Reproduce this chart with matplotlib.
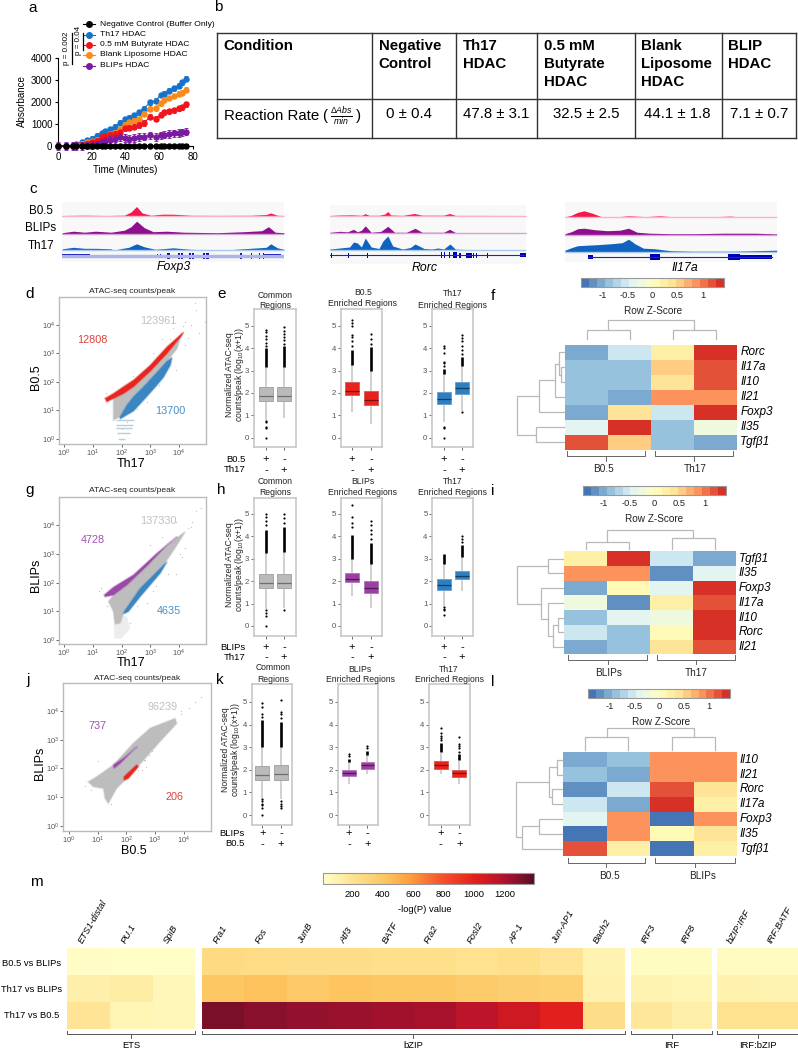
import matplotlib
matplotlib.use("Agg")
import matplotlib.pyplot as plt
from matplotlib import font_manager as fm
from matplotlib.colors import LinearSegmentedColormap, Normalize, to_rgba
from matplotlib.lines import Line2D
from matplotlib.patches import Rectangle
import numpy as np

W, H = 798, 1050
names = {f.name for f in fm.fontManager.ttflist}
plt.rcParams['font.family'] = ['Liberation Sans', 'DejaVu Sans']
plt.rcParams['mathtext.default'] = 'regular'
plt.rcParams['mathtext.fontset'] = 'custom'
plt.rcParams['mathtext.rm'] = 'Liberation Sans'
plt.rcParams['mathtext.it'] = 'Liberation Sans:italic'
NARROW = 'Liberation Sans Narrow' if 'Liberation Sans Narrow' in names else 'Liberation Sans'
NS = 1.0 if NARROW != 'Liberation Sans' else 0.84

# ---------- panel a ----------
times = [0,5,9,11,14,17,20,23,26,28,31,34,37,40,42,45,48,51,55,58,61,63,66,69,72,74,76]
neg_ctrl = [0,0,-10,0,10,0,-5,5,0,0,5,-5,0,0,0,5,-5,0,0,-5,0,5,0,-5,0,5,0]
th17_hdac = [0,5,40,90,170,260,330,460,580,680,760,880,1050,1210,1290,1400,1530,1700,1990,2050,2320,2370,2520,2620,2740,2900,3050]
blank_hdac = [0,0,20,50,100,160,220,290,380,450,530,610,760,960,1080,1150,1230,1460,1690,1710,1950,2100,2180,2270,2380,2420,2550]
but_hdac = [0,0,10,30,60,110,170,250,410,450,500,550,620,810,840,880,950,1050,1330,1240,1430,1530,1570,1620,1720,1760,1900]
blip_hdac = [0,0,0,5,10,30,50,80,170,230,270,330,400,370,330,370,400,430,480,420,480,520,540,570,600,620,650]
a_labels = ['Negative Control (Buffer Only)', 'Th17 HDAC', '0.5 mM Butyrate HDAC', 'Blank Liposome HDAC', 'BLIPs HDAC']
a_errs = [30, 110, 120, 110, 170]
a_xticks = [0, 20, 40, 60, 80]
a_yticks = [0, 1000, 2000, 3000, 4000]

# ---------- panel b ----------
tbl_header = [['Condition'], ['Negative', 'Control'], ['Th17', 'HDAC'], ['0.5 mM', 'Butyrate', 'HDAC'], ['Blank', 'Liposome', 'HDAC'], ['BLIP', 'HDAC']]
tbl_rates = ['0 ± 0.4', '47.8 ± 3.1', '32.5 ± 2.5', '44.1 ± 1.8', '7.1 ± 0.7']

# ---------- panel c: signal knots (fraction along locus, height in px) ----------
foxp3_b05 = ([0,.1,.2,.28,.31,.335,.36,.4,.45,.5,.58,.7,.85,.92,.94,.97,1], [.5,.8,.5,.8,4,9.5,3,.7,1.8,1.8,.7,.6,.7,1.5,3,.7,.5])
foxp3_blip = ([0,.05,.1,.15,.22,.28,.31,.335,.37,.41,.47,.55,.7,.82,.9,.93,.96,1], [1,2.5,1.5,2.5,1.5,3.5,7,12.5,6,2,2.5,1.5,1,2,3,7,1.5,1])
foxp3_th17 = ([0,.05,.1,.15,.22,.23,.26,.3,.335,.37,.42,.5,.58,.74,.78,.85,.92,.94,.97,1], [1.5,3,2,2,1.5,0,1.5,3,6.5,3.5,1,2.5,1,0,1,2,3,6.5,2.5,1])
rorc_b05 = ([0,.05,.11,.16,.18,.2,.25,.28,.295,.31,.37,.43,.47,.58,.61,.64,1], [.5,1,1.2,.7,2.3,.7,.7,2,4.5,1,.6,2.5,.8,.8,2.5,.6,.5])
rorc_blip = ([0,.05,.09,.12,.14,.16,.18,.21,.26,.295,.33,.39,.434,.47,.58,.61,.64,1], [1,2,1.5,4,1.5,3,7.5,1,2,7,1,1,5,1,1,4,.8,.7])
rorc_th17 = ([0,.05,.1,.12,.14,.16,.18,.21,.25,.27,.295,.32,.37,.41,.434,.48,.52,.55,.58,.612,.64,.7,1], [1,2,3,8,7,3,12,3,1.5,9,14,4,1,2.5,6,1.5,1,2,1,6,.8,.5,.3])
il17_b05 = ([0,.03,.06,.09,.13,.17,.25,.3,.38,.45,.5,.7,.78,.82,1], [.5,2,5,6.5,4,.8,.6,1.5,.7,1.5,.7,.6,1.2,.6,.5])
il17_blip = ([0,.03,.06,.09,.14,.2,.26,.3,.34,.4,.5,.6,.75,.9,1], [1,3,6,6.5,5,4,4.5,6.5,2.5,1.5,1,1,1.5,1.5,.8])
il17_th17 = ([0,.03,.06,.15,.22,.27,.3,.33,.37,.42,.5,.6,.8,1], [1.5,4,6,7,8,9,12.5,8,3.5,3,1,.5,.5,1.5])
foxp3_thick = [(0,.125,4),(.425,.432,4),(.44,.447,4),(.473,.485,6),(.52,.53,6),(.535,.545,6),(.57,.58,6),(.587,.595,6),(.636,.643,6),(.65,.66,6),(.803,.812,6),(.85,.856,6),(.885,.893,6),(.905,.912,6),(.912,.985,4),(.985,1,2.5)]
rorc_thick = [(.003,.008,5),(.09,.095,5),(.19,.195,5),(.568,.573,6),(.58,.585,6),(.605,.612,6),(.628,.648,6),(.66,.668,5),(.695,.725,5),(.73,.735,5),(.745,.75,5),(.8,.805,5),(.97,1,4)]
il17_thick = [(.107,.13,4),(.4,.45,6),(.77,.825,6),(.825,.98,4)]

# ---------- scatter panels: outlines of the point clouds (log10 x, log10 y) ----------
d_grey = ([1.72,1.72,2.07,2.42,3.0,3.58,4.10,3.93,3.58,3.23,2.77,2.42,2.19,1.95], [.66,1.42,1.59,1.83,2.37,2.99,3.70,3.16,2.72,2.33,1.83,1.48,1.19,.78])
d_hi = ([1.43,1.72,2.07,2.42,3.0,3.58,4.16,4.10,3.58,3.0,2.42,2.07,1.72,1.49], [1.42,1.59,1.83,2.06,2.58,3.22,3.74,3.63,2.99,2.37,1.83,1.59,1.42,1.30])
d_lo = ([1.95,2.19,2.42,2.77,3.23,3.58,3.76,3.70,3.47,3.23,2.88,2.42,1.95], [.78,1.19,1.48,1.83,2.33,2.72,2.85,2.58,2.17,1.88,1.48,.98,.70])
d_stripe_y = [4.6, 3.2, 2.4, 1.6, 1.0]
d_stripe_x0 = [62, 62, 65, 70, 75]
d_stripe_x1 = [280, 260, 230, 190, 130]
d_sparse_x = [3.4,3.8,4.2,4.4,4.6,4.55,2.4,3.1,3.7,4.2,4.7,4.9,1.45,2.0,2.9,3.3,4.15,4.3,2.2,2.55,2.7,3.15,3.9]
d_sparse_y = [3.5,3.9,4.1,4.0,4.5,4.75,2.2,3.0,3.5,3.3,3.7,4.1,1.6,.35,1.3,1.9,3.95,3.55,.6,1.05,2.3,2.75,2.4]

g_grey = ([1.55,1.72,2.19,2.88,3.58,4.22,3.93,3.47,2.65,2.09,1.95,1.78,1.72], [1.34,1.57,1.92,2.58,3.31,3.78,3.31,2.62,1.8,.99,.58,.56,.99])
g_hi = ([1.40,1.72,2.42,3.23,3.93,3.58,2.88,2.19,1.72,1.43], [1.57,1.84,2.27,3.02,3.60,3.31,2.58,1.92,1.57,1.51])
g_lo = ([2.09,2.65,3.47,3.58,3.35,2.65,2.24,2.07], [.99,1.8,2.62,2.72,2.33,1.51,.99,.91])
g_faint = ([1.72,2.2,2.3,2.0,1.75], [.99,.8,.4,.05,.05])
g_sparse_x = [3.4,3.9,4.3,4.45,4.6,4.75,4.2,2.9,3.2,3.9,1.3,1.5,2.3,3.0,4.1,3.75,4.4,1.2,2.55,3.1,3.6,4.05]
g_sparse_y = [3.6,4.1,3.9,4.1,4.5,4.6,3.2,1.3,1.9,2.3,1.8,1.2,.6,3.3,2.9,3.2,3.95,1.7,1.2,1.7,2.3,3.0]

j_grey = ([.67,.97,1.55,2.24,2.83,3.7,3.76,3.17,2.24,1.66,1.37,1.26,1.2,.85], [1.53,1.71,2.12,2.87,3.4,3.74,3.57,2.93,1.88,1.3,.78,.95,1.3,1.36])
j_hi = ([1.55,1.9,2.38,2.24,1.78,1.57], [2.12,2.35,2.76,2.64,2.17,2.0])
j_lo = ([1.92,2.36,2.42,2.07,1.92], [1.71,2.12,2.06,1.65,1.59])
j_sparse_x = [3.9,4.2,4.4,4.6,3.2,3.5,3.9,.55,2.6,2.7,1.0,2.75,2.9,3.0,2.4,2.55,2.65,2.8,.75,1.45]
j_sparse_y = [3.9,4.1,4.3,4.5,3.3,3.6,4.0,1.4,2.3,2.05,2.25,3.2,2.6,2.95,1.95,1.95,2.3,2.45,1.25,.75]
log_ticks = [0, 1, 2, 3, 4]

# ---------- box plots: (q1, median, q3, whisker low, whisker high, dense fliers low, high, isolated fliers) ----------
e_common = [(1.65,1.85,2.25,.8,3.15,3.15,4.0,[4.1,4.25,4.4,4.55,4.7,4.8,.75,.7,.5,.45,0]),
            (1.65,1.85,2.25,.9,3.15,3.15,4.1,[4.2,4.35,4.5,4.65,4.75,4.95])]
e_enrich = [(1.9,2.07,2.47,1.15,3.25,3.25,3.9,[4.1,4.3,4.5,4.6,5.0,5.1,5.25]),
            (1.45,1.68,2.07,.6,3.0,3.0,4.05,[4.2,4.4,4.65])]
e_th17 = [(1.5,1.75,2.05,.7,2.85,2.85,3.05,[3.2,3.35,3.4,3.8,4.0,4.1,.5,.45,0]),
          (1.97,2.2,2.48,1.2,3.2,3.2,3.6,[3.75,3.9,4.1,4.3,4.45,4.6,1.15])]
h_common = [(1.68,1.9,2.33,.75,3.25,3.25,4.3,[4.5,4.7,4.85,5,.7,.6,.45,0]),
            (1.68,1.9,2.33,.8,3.3,3.3,4.4,[4.6,4.8,5,.7])]
h_enrich = [(1.95,2.1,2.37,1.35,3.0,3.0,4.05,[4.4,4.6,4.85,5.4]),
            (1.47,1.7,2.0,.8,2.75,2.75,3.7,[3.9,4.1,4.3,4.5,4.7])]
h_th17 = [(1.6,1.85,2.08,.9,2.75,2.75,3.2,[.85,.75,.7,.5]),
          (2.08,2.25,2.47,1.55,3.1,3.1,3.6,[3.75,3.9,4])]
k_common = [(1.57,1.78,2.17,.75,3.0,3.0,4.2,[4.35,4.45,4.8,4.95,.7,.6,.5,.45,.3,0]),
            (1.57,1.8,2.2,.7,3.0,3.0,4.1,[4.3,4.45,4.55,5.1,.6,.5,.4,.3])]
k_enrich = [(1.73,1.85,2.0,1.35,2.35,2.35,2.5,[2.6,2.7]),
            (2.05,2.2,2.33,1.8,2.65,2.65,2.85,[2.95,3.05])]
k_b05 = [(2.05,2.2,2.37,1.8,2.75,2.8,3.2,[3.3,3.4,3.5,3.65,3.85]),
         (1.7,1.85,2.0,1.35,2.4,2.45,2.7,[2.8,2.95,3.05,3.15,3.45])]
box_yticks = [0, 1, 2, 3, 4, 5]

# ---------- heat maps ----------
f_rows = ['Rorc', 'Il17a', 'Il10', 'Il21', 'Foxp3', 'Il35', 'Tgfβ1']
f_vals = [[-1.0,-.55,.25,1.4],[-.8,-.8,.55,1.25],[-.8,-.8,.35,1.25],[-.8,-1.0,.8,.95],[-1.0,.35,-.55,1.4],[-.4,1.4,-.8,-.2],[1.25,.55,-.8,-1.0]]
i_rows = ['Tgfβ1', 'Il35', 'Foxp3', 'Il17a', 'Il10', 'Rorc', 'Il21']
i_vals = [[.25,1.4,-.55,-1.0],[.8,.8,-1.2,-.4],[-1.0,.1,-.4,1.4],[-.2,-1.2,.25,1.25],[-.8,-.4,-.2,1.4],[-.6,-.8,.1,1.4],[-1.0,-.8,.4,1.25]]
l_rows = ['Il10', 'Il21', 'Rorc', 'Il17a', 'Foxp3', 'Il35', 'Tgfβ1']
l_vals = [[-1.0,-.8,.8,.95],[-.8,-1.0,.8,.95],[-1.2,-.6,1.25,.4],[-.6,-1.0,1.4,.25],[-.4,.8,-1.4,.8],[-1.4,.95,.1,.4],[1.25,.25,-1.4,.25]]
z_ticks = [-1, -.5, 0, .5, 1]
z_ticklabels = ['-1', '-0.5', '0', '0.5', '1']
# dendrograms: (left, right, merge height); integers are leaves
f_rowtree = (((( (0,(1,2,.06),.12),3,.19),4,.54)),(5,6,.6),1.0)
f_coltree = ((0,1,.47),(2,3,.47),1.0)
i_rowtree = ((0,1,.33),(2,(3,((4,5,.12),6,.23),.33),.48),1.0)
i_coltree = ((0,1,.35),(2,3,.6),1.0)
l_rowtree = (((0,1,.11),(2,3,.22),.29),(((4,5,.51),6,.88)),1.0)
l_coltree = ((0,1,.58),(2,3,.58),1.0)

# ---------- panel m ----------
m_rows = ['B0.5 vs BLIPs', 'Th17 vs BLIPs', 'Th17 vs B0.5']
m_ets = ['ETS1-distal', 'PU.1', 'SpiB']
m_bzip = ['Fra1', 'Fos', 'JunB', 'Atf3', 'BATF', 'Fra2', 'Fosl2', 'AP-1', 'Jun-AP1', 'Bach2']
m_irf = ['IRF3', 'IRF8']
m_irfb = ['bZIP:IRF', 'IRF:BATF']
m_ets_v = [[15,10,10],[110,130,60],[190,80,60]]
m_bzip_v = [[260,250,240,240,230,230,210,230,190,90],[400,430,390,420,400,400,370,350,340,100],[1320,1290,1270,1250,1230,1220,1160,1090,1010,240]]
m_irf_v = [[30,30],[90,80],[170,120]]
m_irfb_v = [[40,40],[100,90],[210,210]]
m_cticks = [200, 400, 600, 800, 1000, 1200]

# ---------- helpers ----------
fig = plt.figure(figsize=(W/100, H/100), dpi=100)
def axpx(x0, y0, x1, y1, **kw):
    return fig.add_axes([x0/W, 1-y1/H, (x1-x0)/W, (y1-y0)/H], **kw)
def tx(x, y, s, size=7, ha='center', va='center', **kw):
    return fig.text(x/W, 1-y/H, s, fontsize=size, ha=ha, va=va, **kw)
def ln(xs, ys, color='k', lw=1.0, **kw):
    fig.add_artist(Line2D([x/W for x in xs], [1-y/H for y in ys], color=color, lw=lw, **kw))

for s, x, y in [('a',33,8),('b',218,7),('c',33,189),('d',30,294),('e',222,294),('f',493,296),('g',30,490),
                ('h',221,490),('i',493,491),('j',28,680),('k',220,680),('l',493,682),('m',36,882)]:
    tx(x, y, s, size=11)

# panel a
ax = axpx(58, 58, 192.5, 146)
series = [neg_ctrl, th17_hdac, but_hdac, blank_hdac, blip_hdac]
a_cols = ['#000000', '#1673C9', '#F0141C', '#F98A1C', '#7A1AA0']
order = [1, 3, 2, 4, 0]
for i in order:
    ax.errorbar(times, series[i], yerr=a_errs[i], color=a_cols[i], marker='o', ms=3.6, lw=.8, elinewidth=.7, capsize=1.2, capthick=.6, clip_on=False, zorder=3+order.index(i))
ax.set_xlim(0, 80); ax.set_ylim(0, 4000)
ax.set_xticks(a_xticks); ax.set_yticks(a_yticks)
ax.tick_params(labelsize=7, length=2.5, width=.8, pad=1.5)
ax.spines[['top', 'right']].set_visible(False)
tx(125, 170, 'Time (Minutes)', size=7)
tx(21.7, 101, 'Absorbance', size=7, rotation=90)
for lab, y, i in zip(a_labels, [24.3, 34.5, 45, 55, 65.5], range(5)):
    ln([83, 95], [y, y], color=a_cols[i], lw=.8)
    fig.add_artist(Line2D([89/W], [1-y/H], color=a_cols[i], marker='o', ms=4))
    tx(100.5, y, lab, size=6.1, ha='left')
tx(67, 48, 'p = 0.002', size=5.8, rotation=90)
tx(78.7, 40, 'p = 0.04', size=5.8, rotation=90)
ln([72, 72], [33, 64], lw=.9)
ln([82.7, 82.7], [33, 50], lw=.9)

# panel b
tv = [217, 372, 456.4, 537.4, 634.5, 721.8, 796]
th = [32.7, 99.3, 138.3]
for x in tv:
    ln([x, x], [th[0], th[-1]], color='#333333', lw=1.0)
for y in th:
    ln([tv[0], tv[-1]], [y, y], color='#333333', lw=1.0)
hx = [223.5, 378.7, 462.7, 543.7, 640.5, 728]
for x, lines in zip(hx, tbl_header):
    for k, s in enumerate(lines):
        tx(x, 46+18*k, s, size=10.8, ha='left', fontweight='bold')
tx(223.5, 116, 'Reaction Rate', size=10.8, ha='left')
tx(325, 116, '(', size=10.8)
tx(341, 116, r'$\frac{\mathit{\Delta Abs}}{\mathit{min}}$', size=9)
tx(358, 116, ')', size=10.8)
for x, s in zip([408.7, 496, 586, 677.6, 759], tbl_rates):
    tx(x, 114, s, size=10.8)

# panel c
track_cols = ['#F5174B', '#8E0E8E', '#0F62C0']
track_pale = ['#F8B4C6', '#D3A5D6', '#A8C8EC']
loci = [
    (62.3, 284, [216, 233.7, 250.3], 256, (201.7, 261.7), [foxp3_b05, foxp3_blip, foxp3_th17], foxp3_thick, (0, 1), 2.5, '#AEB4EA'),
    (330, 526, [216, 233.3, 250], 255.3, (205, 264), [rorc_b05, rorc_blip, rorc_th17], rorc_thick, (0, 1), .8, '#2020C8'),
    (565, 776.7, [217.3, 234.7, 251.7], 257.3, (201.7, 261.7), [il17_b05, il17_blip, il17_th17], il17_thick, (.107, .98), .8, '#2020C8'),
]
for x0, x1, bases, gy, bg, tracks, exons, span, glw, gcol in loci:
    ax = axpx(x0, bg[0], x1, bg[1])
    ax.set_xlim(0, 1); ax.set_ylim(bg[1], bg[0]); ax.axis('off')
    ax.add_patch(Rectangle((0, bg[0]), 1, bg[1]-bg[0], color='#F8F8F8', lw=0))
    for b, tr, c, p in zip(bases, tracks, track_cols, track_pale):
        ax.plot([0, 1], [b, b], color=p, lw=1)
        ax.fill_between(tr[0], b, b-np.array(tr[1]), color=c, lw=0)
    ax.plot(span, [gy, gy], color=gcol, lw=glw)
    for a, b, h in exons:
        ax.add_patch(Rectangle((a, gy-h/2), b-a, h, color='#0000B4', lw=0))
tx(41, 211, 'B0.5', size=8.4)
tx(41, 228, 'BLIPs', size=8.4)
tx(41, 245.7, 'Th17', size=8.4)
tx(174, 267, 'Foxp3', size=8.8, style='italic')
tx(425, 268, 'Rorc', size=8.8, style='italic')
tx(685, 268, 'Il17a', size=8.8, style='italic')

# scatter panels
RED, BLUE, PURPLE, GREY = '#E8261F', '#3B85C0', '#9A4AA8', '#BDBDBD'
def cloud(ax, poly, c):
    ax.fill(10**np.array(poly[0]), 10**np.array(poly[1]), facecolor=c, edgecolor=to_rgba(c, .35), lw=1.4)
def scatter_panel(box, xt, yt, xlab, ylab, title, grey, hi, lo, hic, loc, sx, sy, texts, extra=None):
    x0, y0, x1, y1 = box
    ax = axpx(x0, y0, x1, y1)
    dx = (xt[1]-xt[0])/4; dy = (yt[0]-yt[1])/4
    ax.set_xlim(10**((x0-xt[0])/dx), 10**((x1-xt[0])/dx))
    ax.set_ylim(10**((yt[0]-y1)/dy), 10**((yt[0]-y0)/dy))
    ax.set_xscale('log'); ax.set_yscale('log')
    ax.set_xticks([10**t for t in log_ticks]); ax.set_yticks([10**t for t in log_ticks])
    ax.minorticks_off()
    ax.tick_params(labelsize=5.4, colors='#555555', length=2, width=.6, pad=1)
    for s in ax.spines.values():
        s.set_color('#BBBBBB'); s.set_linewidth(1)
    if extra:
        extra(ax)
    ax.scatter(10**np.array(sx), 10**np.array(sy), s=.7, color='#BBBBBB', lw=0)
    cloud(ax, grey, GREY)
    cloud(ax, hi, hic)
    cloud(ax, lo, loc)
    tx((x0+x1)/2+(title[1]), title[2], title[0], size=6.1, color='#222222')
    tx(*xlab, size=9); tx(*ylab, size=9, rotation=90)
    for x, y, s, c in texts:
        tx(x, y, s, size=7.8, color=c)

def d_extra(ax):
    ax.hlines(d_stripe_y, d_stripe_x0, d_stripe_x1, color='#B7CEDA', lw=1)
def g_extra(ax):
    ax.fill(10**np.array(g_faint[0]), 10**np.array(g_faint[1]), color='#EDEDED', lw=0)

scatter_panel((59,297,206,444), (64,179), (439,324.7), (130.7,464,'Th17'), (35.5,376.7,'B0.5'),
              ('ATAC-seq counts/peak',0,291.7), d_grey, d_hi, d_lo, RED, BLUE, d_sparse_x, d_sparse_y,
              [(158,321,'123961','#C0C0C0'),(92.7,340,'12808','#E5403A'),(170,410.7,'13700','#4A90C8')], d_extra)
scatter_panel((59,497,206,644), (64,179), (640,525.3), (131,663,'Th17'), (36.5,575,'BLIPs'),
              ('ATAC-seq counts/peak',0,491), g_grey, g_hi, g_lo, PURPLE, BLUE, g_sparse_x, g_sparse_y,
              [(158.7,521,'137330','#C0C0C0'),(92.7,540,'4728','#A050B0'),(169.3,611,'4635','#4A90C8')], g_extra)
scatter_panel((63,683,211,831), (69,183.7), (825.7,711), (134,851,'B0.5'), (40.5,763,'BLIPs'),
              ('ATAC-seq counts/peak',0,678), j_grey, j_hi, j_lo, PURPLE, RED, j_sparse_x, j_sparse_y,
              [(163,707,'96239','#C0C0C0'),(97.3,726,'737','#A050B0'),(174.3,797,'206','#E5403A')])

# box plots
def box_panel(box, xpos, y0px, y5px, data, cols, title, tx_x, tx_y):
    x0, y0, x1, y1 = box
    ax = axpx(x0, y0, x1, y1)
    u = xpos[1]-xpos[0]
    py = (y0px-y5px)/5
    ax.set_ylim((y0px-y1)/py, (y0px-y0)/py)
    for p, d, c in zip([1, 2], data, cols):
        q1, med, q3, lo, hi, f0, f1, iso = d
        ax.vlines(p, lo, hi, color='#C8C8C8', lw=1.2, zorder=1)
        ax.vlines(p, f0, f1, color='#000000', lw=1.9, zorder=1)
        ax.scatter([p]*len(iso), iso, s=2.5, color='k', lw=0, zorder=1)
        ax.bxp([dict(med=med, q1=q1, q3=q3, whislo=med, whishi=med, fliers=[])], positions=[p], widths=.74,
               showcaps=False, showfliers=False, patch_artist=True,
               boxprops=dict(facecolor=c[0], edgecolor=c[1], lw=.7),
               medianprops=dict(color=c[2], lw=.9), whiskerprops=dict(lw=0))
    ax.set_xticks([1, 2]); ax.set_xticklabels([])
    ax.set_yticks(box_yticks); ax.set_yticklabels([str(t) for t in box_yticks])
    ax.set_xlim(1-(xpos[0]-x0)/u, 2+(x1-xpos[1])/u)
    ax.tick_params(labelsize=5.6, colors='#555555', length=2, width=.6, pad=1.5)
    for s in ax.spines.values():
        s.set_color('#C4C4C4'); s.set_linewidth(1.1)
    tx(tx_x, tx_y[0], title[0], size=6.2, color='#222222')
    tx(tx_x, tx_y[1], title[1], size=6.2, color='#222222')

CG = ('#BABABA', '#A6A6A6', '#6E6E6E')
CR = ('#E8231E', '#D9605C', '#7A0F0C')
CB = ('#2E7FC0', '#6AA3D2', '#123E63')
CP = ('#9B3FA5', '#B47CBC', '#4E1A55')
rows = [
 dict(y0=309, y1=447, z=437.7, f=325.7, xs=[(254,296,266,284),(341,382,352,371),(432,473,444,462)],
      data=[e_common, e_enrich, e_th17], cols=[[CG,CG],[CR,CR],[CB,CB]],
      titles=[('Common','Regions'),('B0.5','Enriched Regions'),('Th17','Enriched Regions')],
      tx=[275,362.7,452.7], ty=[(295,305),(293,303),(294,305)], lab=('B0.5','Th17'), ly=(459,470), lx=245.7, yl=(232,375)),
 dict(y0=498, y1=636, z=626, f=514, xs=[(254,296,266,284),(341,382,352,371),(432.5,473,444,462)],
      data=[h_common, h_enrich, h_th17], cols=[[CG,CG],[CP,CP],[CB,CB]],
      titles=[('Common','Regions'),('BLIPs','Enriched Regions'),('Th17','Enriched Regions')],
      tx=[275,363,452.7], ty=[(482,492),(482,492),(482,492)], lab=('BLIPs','Th17'), ly=(647,657), lx=245.7, yl=(232,565)),
 dict(y0=684, y1=825, z=815, f=702, xs=[(252,292,262.3,281),(338,378,349,367.3),(429,470,440.7,459.3)],
      data=[k_common, k_enrich, k_b05], cols=[[CG,CG],[CP,CP],[CR,CR]],
      titles=[('Common','Regions'),('BLIPs','Enriched Regions'),('Th17','Enriched Regions')],
      tx=[273,360,449], ty=[(668,679),(669,679),(669,679)], lab=('BLIPs','B0.5'), ly=(833,844), lx=245, yl=(229,750)),
]
for r in rows:
    for i in range(3):
        x0, x1, p1, p2 = r['xs'][i]
        box_panel((x0, r['y0'], x1, r['y1']), (p1, p2), r['z'], r['f'], r['data'][i], r['cols'][i], r['titles'][i], r['tx'][i], r['ty'][i])
        tx(p1, r['ly'][0], '+', size=8); tx(p2, r['ly'][0], '-', size=8)
        tx(p1, r['ly'][1], '-', size=8); tx(p2, r['ly'][1], '+', size=8)
    tx(r['lx'], r['ly'][0], r['lab'][0], size=6.8, ha='right')
    tx(r['lx'], r['ly'][1], r['lab'][1], size=6.8, ha='right')
    tx(r['yl'][0]-3, r['yl'][1], 'Normalized ATAC-seq', size=6.2, rotation=90, color='#222222')
    tx(r['yl'][0]+7, r['yl'][1], r'counts/peak (log$_{10}$(x+1))', size=6.2, rotation=90, color='#222222')

# heat maps
zcmap = LinearSegmentedColormap.from_list('z', ['#4575b4','#91bfdb','#e0f3f8','#ffffbf','#fee090','#fc8d59','#d73027'], N=18)
znorm = Normalize(-1.43, 1.43)
DG = '#B8B8B8'
def tree(ax, node, vertical):
    if isinstance(node, int):
        return node+.5, 0
    l, r, h = node
    pl, hl = tree(ax, l, vertical)
    pr, hr = tree(ax, r, vertical)
    if vertical:
        ax.plot([pl, pl, pr, pr], [hl, h, h, hr], color=DG, lw=.9, solid_joinstyle='miter', clip_on=False)
    else:
        ax.plot([-hl, -h, -h, -hr], [pl, pl, pr, pr], color=DG, lw=.9, solid_joinstyle='miter', clip_on=False)
    return (pl+pr)/2, h

def heat_panel(box, vals, rows_, cbar, rt, ct, rdx, cdy, gl, gx, gy, brk, zfy, cbl):
    x0, y0, x1, y1 = box
    ax = axpx(x0, y0, x1, y1)
    im = ax.pcolormesh(np.array(vals), cmap=zcmap, norm=znorm, edgecolors='none')
    ax.invert_yaxis(); ax.axis('off')
    n = len(rows_); h = (y1-y0)/n
    for k, s in enumerate(rows_):
        tx(x1+3, y0+h*(k+.5), s, size=8.5, ha='left', style='italic')
    c = axpx(*cbar)
    cb = fig.colorbar(im, cax=c, orientation='horizontal', ticks=z_ticks)
    cb.ax.set_xticklabels(z_ticklabels)
    cb.ax.tick_params(labelsize=6.7, length=0, pad=zfy, colors='#222222')
    cb.outline.set_edgecolor('#999999'); cb.outline.set_linewidth(.8)
    tx(cbl[0], cbl[1], 'Row Z-Score', size=7.2, color='#222222')
    a = axpx(rdx, y0, x0-1, y1)
    a.set_xlim(-1, 0); a.set_ylim(n, 0); a.axis('off')
    tree(a, rt, False)
    a = axpx(x0, cdy[0], x1, cdy[1])
    a.set_xlim(0, 4); a.set_ylim(0, 1); a.axis('off')
    tree(a, ct, True)
    for (bx0, bx1), lab, lx in zip(brk[0], gl, gx):
        ln([bx0, bx0, bx1, bx1], [brk[1], brk[1]+5, brk[1]+5, brk[1]], color='#666666', lw=.7)
        ln([(bx0+bx1)/2]*2, [brk[1]+5, brk[1]+9], color='#666666', lw=.7)
        tx(lx, gy, lab, size=7.2, color='#222222')

heat_panel((565.3,344.7,737.3,450), f_vals, f_rows, (581,277.7,724,286.7), f_rowtree, f_coltree, 517, (320,339),
           ['B0.5','Th17'], [604,695], 469, ([(566.7,645),(655,733)],451.5), 3, (653,310.5))
heat_panel((564.3,551.3,736,654.3), i_vals, i_rows, (582.7,486,726,495), i_rowtree, i_coltree, 517, (530,549),
           ['BLIPs','Th17'], [609,696], 673.3, ([(568.3,646.7),(656.7,735)],655), 3, (654,519))
heat_panel((563.3,752.3,737,856), l_vals, l_rows, (588.3,689.3,730,698.3), l_rowtree, l_coltree, 516, (728,750),
           ['B0.5','BLIPs'], [610,703], 876, ([(567.7,645),(655,735)],858), 3, (661,722))

# panel m
mcmap = LinearSegmentedColormap.from_list('m', [(0,'#FFFFC8'),(.14,'#FEE391'),(.3,'#FDC45E'),(.42,'#FD9A3C'),(.56,'#F5532B'),(.72,'#E3201C'),(.85,'#B5122B'),(.94,'#80102C'),(1,'#5A0A22')])
mnorm = Normalize(4, 1396)
segs = [(67.2,195.4,m_ets,m_ets_v,'ETS',131),(202,625,m_bzip,m_bzip_v,'bZIP',413),(631.3,711.8,m_irf,m_irf_v,'IRF',672),(717.4,798,m_irfb,m_irfb_v,'IRF:bZIP',758)]
for x0, x1, labs, vals, gname, gx in segs:
    ax = axpx(x0, 948, x1, 1028.7)
    mm = ax.pcolormesh(np.array(vals), cmap=mcmap, norm=mnorm, edgecolors='none')
    ax.invert_yaxis(); ax.axis('off')
    w = (x1-x0)/len(labs)
    for k, s in enumerate(labs):
        fig.text((x0+w*(k+.5)-4)/W, 1-945/H, s, fontsize=8*NS, family=NARROW, style='italic', rotation=60, ha='left', va='bottom', rotation_mode='anchor')
    ln([x0, x0, x1, x1], [1030.5, 1034, 1034, 1030.5], color='#555555', lw=.7)
    ln([gx, gx], [1034, 1037.5], color='#555555', lw=.7)
    tx(gx, 1045, gname, size=8*NS, family=NARROW)
for s, y in zip(m_rows, [963.3, 990, 1016]):
    tx(32, y, s, size=8*NS, family=NARROW)
c = axpx(323, 873, 534, 884)
cb = fig.colorbar(mm, cax=c, orientation='horizontal', ticks=m_cticks)
cb.ax.tick_params(labelsize=8*NS, length=0, pad=4)
for t in cb.ax.get_xticklabels():
    t.set_family(NARROW)
cb.outline.set_edgecolor('#999999'); cb.outline.set_linewidth(.8)
tx(425, 909, '-log(P) value', size=8*NS, family=NARROW)

fig.savefig('out.png', dpi=100)
